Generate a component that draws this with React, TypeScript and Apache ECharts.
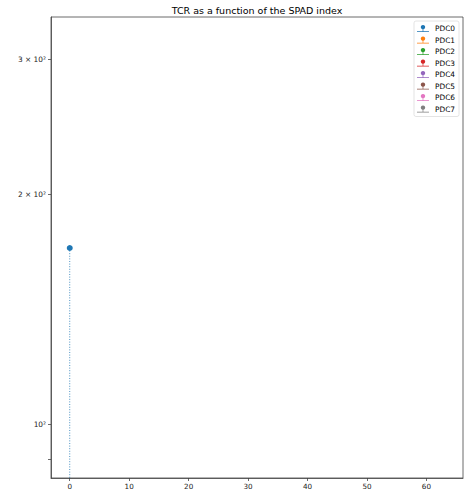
import React, { useEffect, useRef } from "react";
import * as echarts from "echarts";

const pdcNames = ["PDC0", "PDC1", "PDC2", "PDC3", "PDC4", "PDC5", "PDC6", "PDC7"];
// SPAD index (x) and TCR (y) per PDC
const spadIndex: number[][] = [[0], [], [], [], [], [], [], []];
const tcrValues: number[][] = [[170], [], [], [], [], [], [], []];
const xTicks = [0, 10, 20, 30, 40, 50, 60];
const yLabelTicks = [100, 200, 300];
const yAllTicks = [90, 100, 200, 300];
const yTickText: Record<number, string> = { 100: "10²", 200: "2 × 10²", 300: "3 × 10²" };

const palette = ["#1f77b4", "#ff7f0e", "#2ca02c", "#d62728", "#9467bd", "#8c564b", "#e377c2", "#7f7f7f"];

const X_MIN = -3.15;
const X_MAX = 66.15;
const Y_MIN = 85;
const Y_MAX = 341;

const stemIcon =
  "path://M0,7.2 L12,7.2 L12,8 L0,8 Z M5.65,3 L6.35,3 L6.35,7.2 L5.65,7.2 Z M6,1 A2.2,2.2 0 1 1 5.99,1 Z";

export default function App() {
  const ref = useRef<HTMLDivElement>(null);
  useEffect(() => {
    if (!ref.current) return;
    const chart = echarts.init(ref.current, undefined, { renderer: "svg" });
    const font = "DejaVu Sans";
    const series = pdcNames.map((name, i) => {
      const data: any[] = [];
      spadIndex[i].forEach((x, j) => {
        if (data.length) data.push("-");
        data.push({ value: [x, tcrValues[i][j]], symbol: "circle" });
        data.push({ value: [x, Y_MIN], symbol: "none" });
      });
      return {
        name,
        type: "line",
        data,
        symbolSize: 6,
        showSymbol: true,
        connectNulls: false,
        itemStyle: { color: palette[i] },
        lineStyle: { color: palette[i], width: 0.9, type: [1, 1.6], opacity: 0.9 },
        emphasis: { disabled: true },
        clip: true,
      };
    });
    chart.setOption({
      animation: false,
      backgroundColor: "#ffffff",
      textStyle: { fontFamily: font },
      title: {
        text: "TCR as a function of the SPAD index",
        left: 257,
        textAlign: "center",
        top: 5,
        padding: 0,
        textStyle: { fontSize: 9.5, fontWeight: "normal", color: "#000", fontFamily: font },
      },
      legend: {
        orient: "vertical",
        right: 16,
        top: 21,
        padding: [4, 4, 4, 3],
        itemGap: 4.5,
        itemWidth: 12,
        itemHeight: 8,
        borderColor: "#dddddd",
        borderWidth: 0.8,
        borderRadius: 2,
        backgroundColor: "rgba(255,255,255,0.8)",
        textStyle: { fontSize: 7.4, color: "#000", fontFamily: font, padding: [0, 0, 0, 1] },
        data: pdcNames.map((n) => ({ name: n, icon: stemIcon })),
      },
      grid: {
        left: 51,
        right: 12,
        top: 17,
        bottom: 20,
        show: true,
        borderColor: "#444",
        borderWidth: 0.8,
        backgroundColor: "transparent",
      },
      xAxis: {
        type: "value",
        min: X_MIN,
        max: X_MAX,
        splitLine: { show: false },
        axisLine: { show: true, onZero: false, lineStyle: { color: "#444", width: 0.8 } },
        axisTick: { show: true, length: 3, customValues: xTicks, lineStyle: { color: "#444", width: 0.8 } },
        axisLabel: { customValues: xTicks, fontSize: 7.2, color: "#222", margin: 5, fontFamily: font },
      },
      yAxis: {
        type: "log",
        min: Y_MIN,
        max: Y_MAX,
        splitLine: { show: false },
        axisLine: { show: true, onZero: false, lineStyle: { color: "#444", width: 0.8 } },
        axisTick: { show: true, length: 3, customValues: yAllTicks, lineStyle: { color: "#444", width: 0.8 } },
        axisLabel: {
          customValues: yLabelTicks,
          fontSize: 7.4,
          color: "#222",
          margin: 5,
          fontFamily: font,
          formatter: (v: number) => yTickText[Math.round(v)] ?? "",
        },
      },
      series,
    });
    return () => chart.dispose();
  }, []);
  return (
    <div
      ref={ref}
      style={{ position: "fixed", left: 0, top: 0, width: 475, height: 498 }}
    />
  );
}
